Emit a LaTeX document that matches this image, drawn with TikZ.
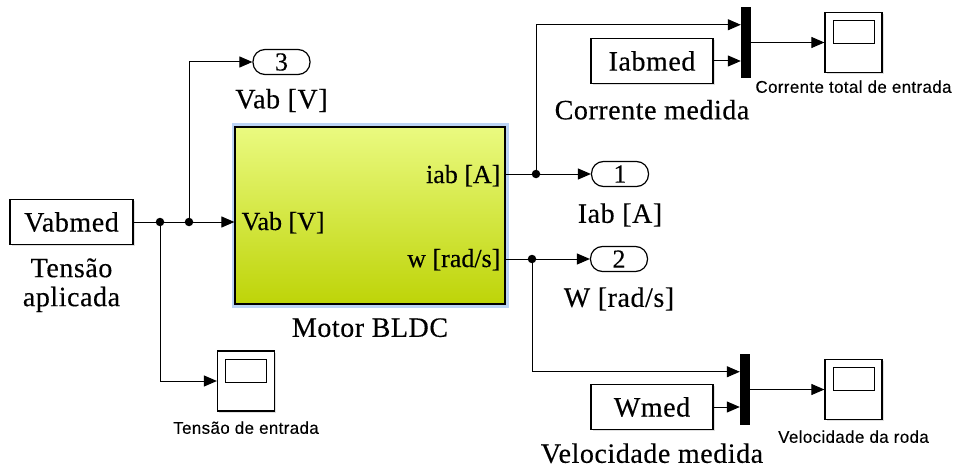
\documentclass[tikz,border=0pt]{standalone}
\usepackage{fontspec}
\setmainfont{Liberation Serif}
\newfontfamily\simserif{Liberation Serif}[LetterSpace=2, FakeBold=0.35]
\newfontfamily\simport{Liberation Serif}[FakeBold=0.35]
\newfontfamily\simsans{Liberation Sans}[LetterSpace=2, FakeBold=0.2]
\usetikzlibrary{positioning,arrows.meta,shadows}
\definecolor{motortop}{RGB}{234,250,128}
\definecolor{motorbot}{RGB}{190,212,8}
\definecolor{selblue}{RGB}{188,212,245}
\newcommand{\blkfont}{\simserif\fontsize{28}{29}\selectfont}
\newcommand{\portfont}{\simport\fontsize{26}{28}\selectfont}
\newcommand{\capfont}{\simsans\fontsize{17}{18}\selectfont}

\begin{document}
\begin{tikzpicture}[
  x=1pt, y=-1pt,
  node distance=14pt,
  blk/.style={draw, line width=1.2pt, fill=white, minimum width=122pt, minimum height=45pt,
              inner sep=0pt, font=\blkfont,
              drop shadow={shadow xshift=1.5pt, shadow yshift=-1.5pt, opacity=0.25}},
  outp/.style={draw, line width=1.2pt, rounded corners=12pt, minimum width=57pt,
               minimum height=25pt, inner sep=0pt, font=\portfont},
  muxbar/.style={fill=black, minimum width=10pt, minimum height=71pt, inner sep=0pt},
  scopebox/.style={draw, line width=1.2pt, fill=white, minimum width=57pt, minimum height=60pt,
                inner sep=0pt,
                drop shadow={shadow xshift=1.5pt, shadow yshift=-1.5pt, opacity=0.25},
                path picture={\draw[line width=1pt]
                  ([xshift=8pt,yshift=-8pt]path picture bounding box.north west) rectangle
                  ([xshift=-8pt,yshift=-31pt]path picture bounding box.north east);}},
  dot/.style={circle, fill, inner sep=0pt, minimum size=8.5pt},
  lbl/.style={font=\blkfont, inner sep=0pt, text height=20.5pt, text depth=6.5pt},
  portlbl/.style={font=\portfont, inner sep=0pt, text height=19pt, text depth=6pt},
  caplbl/.style={font=\capfont, inner sep=0pt, text height=12.5pt, text depth=3.5pt},
  wire/.style={line width=1pt},
  arr/.style={-{Triangle[length=13pt, width=11pt]}, line width=1pt},
]
\useasboundingbox (0,0) rectangle (957,473);

% Input side
\node[blk, minimum width=123pt] (vab) at (71.5,222) {Vabmed};
\node[font=\blkfont, inner sep=0pt, align=center, below=13pt of vab] (vablbl) {Tensão\\aplicada};
\node[dot] (j1) at (160,222) {};
\node[dot] (j2) at (189,222) {};
\node[outp] (out3) at (281.5,62) {3};
\node[lbl, below=12.5pt of out3] (out3lbl) {Vab [V]};
\node[scopebox] (scV) at (246,381) {};
\node[caplbl, below=9.5pt of scV] (scVlbl) {Tensão de entrada};

% Motor block
\node[draw, line width=1.2pt, minimum width=270pt, minimum height=177pt,
      top color=motortop, bottom color=motorbot,
      preaction={draw=selblue, line width=7pt}] (motor) at (370,215.5) {};
\node[lbl, below=11.5pt of motor] (motorlbl) {Motor BLDC};
\node[portlbl, anchor=base west] (pvab) at ([xshift=7pt,yshift=-8pt]motor.west |- j2) {Vab [V]};

% Current branch
\node[dot] (j3) at (536,174) {};
\node[portlbl, anchor=base east] (piab) at ([xshift=-5pt,yshift=-9pt]motor.east |- j3) {iab [A]};
\node[outp] (out1) at (620,174) {1};
\node[lbl, below=15pt of out1] (out1lbl) {Iab [A]};
\node[blk] (iab) at (652,61) {Iabmed};
\node[lbl, below=14.5pt of iab] (iablbl) {Corrente medida};
\node[muxbar] (muxI) at (746,42.5) {};
\coordinate (muxIa) at ([yshift=17.75pt]muxI.west);
\node[scopebox] (scI) at (853.5,42.5) {};
\node[caplbl, below=7pt of scI] (scIlbl) {Corrente total de entrada};

% Speed branch
\node[dot] (j4) at (532,259) {};
\node[portlbl, anchor=base east] (pw) at ([xshift=-5pt,yshift=-8pt]motor.east |- j4) {w [rad/s]};
\node[outp] (out2) at (619,259) {2};
\node[lbl, below=14pt of out2] (out2lbl) {W [rad/s]};
\node[blk] (wmed) at (652,407) {Wmed};
\node[lbl, below=12pt of wmed] (wmedlbl) {Velocidade medida};
\node[muxbar] (muxW) at (745,389.5) {};
\coordinate (muxWa) at ([yshift=17.75pt]muxW.west);
\node[scopebox] (scW) at (853.5,389.5) {};
\node[caplbl, below=10pt of scW] (scWlbl) {Velocidade da roda};

% Connections
\draw[wire] (vab) -- (j1);
\draw[wire] (j1) -- (j2);
\draw[arr] (j2) -- (j2 -| motor.west);
\draw[arr] (j2) |- (out3);
\draw[arr] (j1) |- (scV);
\draw[wire] (motor.east |- j3) -- (j3);
\draw[arr] (j3) -- (out1);
\draw[arr] (j3) |- (muxIa);
\draw[arr] (iab) -- (iab -| muxI.west);
\draw[arr] (muxI) -- (scI);
\draw[wire] (motor.east |- j4) -- (j4);
\draw[arr] (j4) -- (out2);
\draw[arr] (j4) |- (muxWa);
\draw[arr] (wmed) -- (wmed -| muxW.west);
\draw[arr] (muxW) -- (scW);

\end{tikzpicture}
\end{document}
